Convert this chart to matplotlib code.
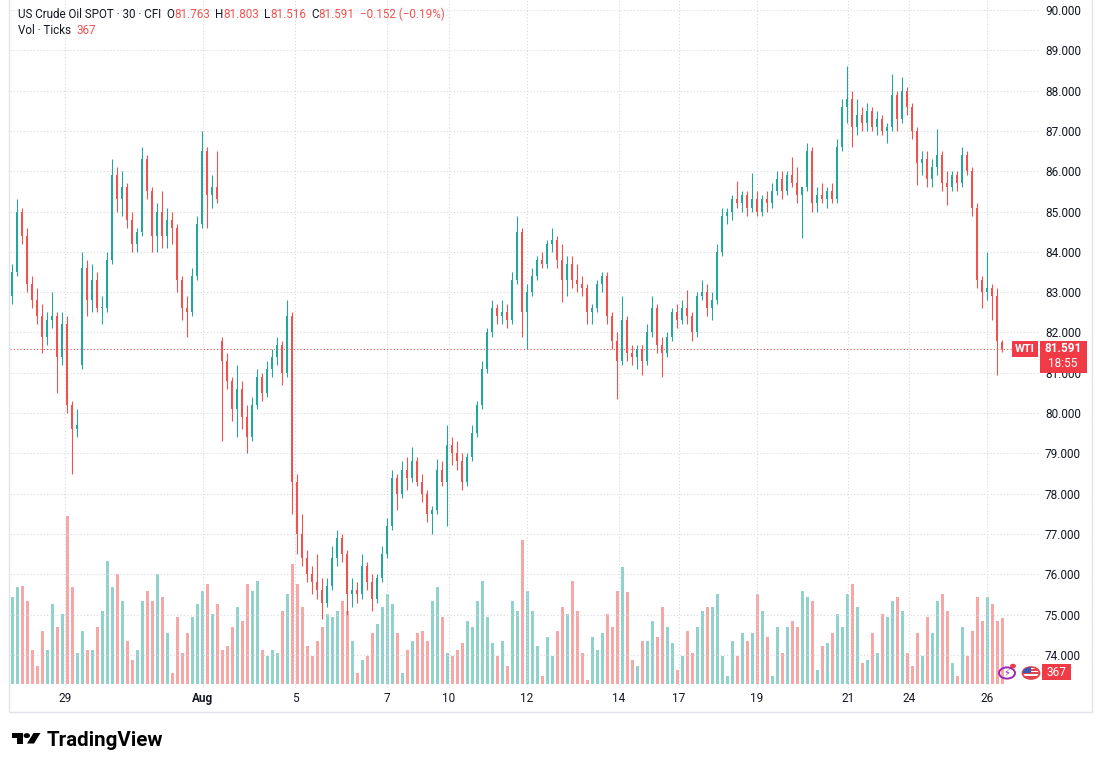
import matplotlib
matplotlib.use("Agg")
import matplotlib.pyplot as plt
import numpy as np
from matplotlib.patches import Rectangle, Circle, Polygon

# 30 min US crude oil spot, sampled every ~2.5h across the screen
opens = [82.9, 83.5, 85.0, 84.4, 83.2, 82.8, 82.4, 81.9, 82.3, 82.4,
         81.4, 82.2, 80.2, 79.6, 81.2, 83.6, 82.8, 83.3, 82.6, 82.6,
         83.8, 85.9, 85.3, 85.6, 84.8, 84.2, 84.5, 86.3, 85.5, 84.4,
         85.0, 84.4, 84.8, 84.6, 83.3, 82.6, 82.5, 83.4, 84.7, 86.5,
         85.4, 85.6, 81.8, 81.3, 80.8, 80.1, 80.6, 79.9, 79.4, 80.2,
         80.9, 80.5, 81.1, 81.4, 81.7, 81.0, 82.4, 78.3, 77.0, 76.4,
         76.0, 75.8, 75.6, 75.3, 75.7, 76.4, 76.9, 76.5, 75.5, 75.6,
         75.5, 76.2, 75.8, 75.4, 75.9, 76.5, 77.2, 78.4, 78.0, 78.6,
         78.4, 78.8, 78.3, 78.0, 77.5, 77.6, 78.6, 78.3, 79.2, 79.0,
         78.8, 78.3, 78.9, 79.5, 80.2, 81.1, 82.0, 82.6, 82.4, 82.5,
         82.3, 83.3, 84.5, 82.5, 83.0, 83.4, 83.8, 83.7, 84.2, 84.3,
         83.8, 83.3, 83.7, 83.3, 83.2, 83.1, 82.5, 82.6, 83.2, 83.4,
         82.4, 81.8, 81.3, 82.3, 81.5, 81.4, 81.6, 81.3, 82.0, 82.6,
         81.7, 81.5, 81.9, 82.5, 82.3, 82.6, 82.4, 82.0, 82.9, 83.0,
         82.6, 82.8, 84.0, 84.9, 85.0, 85.3, 85.2, 85.4, 85.1, 85.3,
         85.0, 85.3, 85.2, 85.5, 85.8, 85.5, 85.9, 85.7, 85.4, 85.6,
         86.5, 85.2, 85.4, 85.3, 85.5, 85.3, 86.6, 87.6, 87.8, 87.1,
         87.4, 87.2, 87.5, 87.1, 87.3, 87.0, 87.1, 87.9, 87.3, 88.0,
         87.6, 87.0, 86.2, 86.3, 85.8, 86.1, 86.4, 85.7, 85.6, 85.9,
         85.7, 86.4, 86.0, 85.1, 83.3, 83.0, 83.1, 82.9, 81.763]
highs = [83.7, 85.3, 85.1, 84.6, 83.4, 83.1, 82.7, 82.5, 83.0, 82.5,
         82.5, 82.4, 80.3, 80.1, 84.0, 83.8, 83.7, 83.5, 82.9, 84.0,
         86.3, 86.1, 86.0, 85.7, 85.0, 84.6, 86.6, 86.4, 85.6, 85.2,
         85.5, 85.1, 85.0, 84.7, 83.4, 82.9, 83.6, 84.9, 87.0, 86.6,
         85.9, 86.5, 81.9, 81.5, 80.9, 81.2, 80.8, 80.2, 80.4, 81.1,
         81.0, 81.3, 81.6, 81.9, 81.8, 82.8, 82.5, 78.5, 77.5, 76.6,
         76.2, 76.5, 75.9, 75.9, 76.7, 77.1, 77.0, 76.6, 75.9, 75.8,
         76.5, 76.3, 76.0, 76.0, 76.7, 77.4, 78.6, 78.5, 78.8, 78.9,
         79.15, 78.9, 78.5, 78.1, 77.7, 78.85, 78.8, 79.7, 79.4, 79.3,
         79.0, 79.0, 79.7, 80.3, 81.3, 82.1, 82.8, 82.7, 82.8, 82.7,
         83.5, 84.9, 84.6, 83.2, 83.6, 83.9, 84.0, 84.3, 84.6, 84.4,
         84.2, 83.9, 83.9, 83.7, 83.4, 83.2, 82.7, 83.3, 83.5, 83.5,
         82.5, 82.0, 82.9, 82.4, 81.7, 81.7, 81.7, 82.2, 82.9, 82.7,
         81.9, 82.0, 82.6, 82.7, 82.8, 83.05, 82.5, 83.0, 83.3, 83.2,
         83.0, 84.2, 85.1, 85.1, 85.4, 85.75, 85.5, 85.5, 85.95, 85.5,
         85.4, 85.5, 85.7, 86.0, 86.0, 86.0, 86.35, 86.1, 85.6, 86.7,
         86.6, 85.6, 85.7, 85.6, 85.7, 86.8, 87.8, 88.6, 88.0, 87.8,
         87.6, 87.7, 87.6, 87.5, 87.4, 87.2, 88.4, 88.0, 88.35, 88.1,
         87.7, 87.1, 86.5, 86.5, 86.3, 87.05, 86.5, 86.0, 86.0, 86.0,
         86.6, 86.5, 86.1, 85.2, 83.4, 84.0, 83.2, 83.1, 81.803]
lows = [82.7, 83.4, 84.2, 83.0, 82.6, 82.2, 81.5, 81.7, 82.1, 80.5,
        81.2, 80.0, 78.5, 79.4, 81.1, 82.4, 82.5, 82.5, 82.2, 82.5,
        83.7, 85.0, 84.9, 84.6, 84.0, 84.0, 84.4, 85.3, 84.0, 84.0,
        84.1, 84.1, 84.2, 83.0, 82.3, 81.9, 82.4, 83.3, 84.6, 84.6,
        85.1, 85.2, 79.3, 80.6, 79.8, 79.4, 79.6, 79.0, 79.3, 80.1,
        80.3, 80.4, 80.9, 81.2, 80.7, 80.9, 77.5, 76.5, 76.2, 75.8,
        75.5, 75.4, 74.9, 75.2, 75.6, 76.2, 76.3, 75.0, 75.2, 75.3,
        75.4, 75.6, 75.1, 75.3, 75.8, 76.4, 77.1, 77.6, 77.9, 78.1,
        78.3, 78.2, 77.8, 77.3, 77.0, 77.5, 78.2, 77.2, 78.7, 78.6,
        78.1, 78.2, 78.8, 79.4, 80.1, 81.0, 81.9, 82.2, 82.2, 82.1,
        82.2, 83.2, 81.9, 81.6, 82.9, 83.3, 83.6, 83.6, 84.0, 83.6,
        82.75, 82.9, 83.1, 83.0, 82.9, 82.2, 82.2, 82.5, 83.0, 82.2,
        81.6, 80.35, 81.2, 81.3, 81.2, 81.1, 80.95, 81.2, 81.9, 81.5,
        80.9, 81.4, 81.8, 82.1, 82.2, 82.2, 81.8, 81.9, 82.8, 82.4,
        82.3, 82.7, 83.9, 84.7, 84.8, 85.1, 85.0, 84.9, 85.0, 84.9,
        84.9, 85.0, 85.1, 85.4, 85.3, 85.4, 85.6, 85.2, 84.35, 85.5,
        85.0, 85.0, 85.2, 85.1, 85.2, 85.2, 86.5, 87.2, 86.6, 86.9,
        87.0, 87.0, 87.0, 86.9, 86.9, 86.7, 87.0, 87.0, 87.2, 87.4,
        86.8, 85.65, 85.9, 85.6, 85.6, 85.9, 85.5, 85.15, 85.5, 85.5,
        85.6, 85.9, 84.9, 83.1, 82.6, 82.8, 82.3, 80.95, 81.516]
closes = [83.5, 85.0, 84.4, 83.2, 82.8, 82.4, 81.9, 82.3, 82.4, 81.4,
          82.2, 80.2, 79.6, 79.7, 83.6, 82.8, 83.3, 82.6, 82.6, 83.8,
          85.9, 85.3, 85.6, 84.8, 84.2, 84.5, 86.3, 85.5, 84.4, 85.0,
          84.4, 84.8, 84.6, 83.3, 82.6, 82.5, 83.4, 84.7, 86.5, 85.4,
          85.6, 85.3, 81.3, 80.8, 80.1, 80.6, 79.9, 79.4, 80.2, 80.9,
          80.5, 81.1, 81.4, 81.7, 81.0, 82.4, 78.3, 77.0, 76.4, 76.0,
          75.8, 75.6, 75.3, 75.7, 76.4, 76.9, 76.5, 75.5, 75.6, 75.5,
          76.2, 75.8, 75.4, 75.9, 76.5, 77.2, 78.4, 78.0, 78.6, 78.4,
          78.8, 78.3, 78.0, 77.5, 77.6, 78.6, 78.3, 79.2, 79.0, 78.8,
          78.3, 78.9, 79.5, 80.2, 81.1, 82.0, 82.6, 82.4, 82.5, 82.3,
          83.3, 84.5, 82.5, 83.0, 83.4, 83.8, 83.7, 84.2, 84.3, 83.8,
          83.3, 83.7, 83.3, 83.2, 83.1, 82.5, 82.6, 83.2, 83.4, 82.4,
          81.8, 81.3, 82.3, 81.5, 81.4, 81.6, 81.3, 82.0, 82.6, 81.7,
          81.5, 81.9, 82.5, 82.3, 82.6, 82.4, 82.0, 82.9, 83.0, 82.6,
          82.8, 84.0, 84.9, 85.0, 85.3, 85.2, 85.4, 85.1, 85.3, 85.0,
          85.3, 85.2, 85.5, 85.8, 85.5, 85.9, 85.7, 85.4, 85.6, 86.5,
          85.2, 85.4, 85.3, 85.5, 85.3, 86.6, 87.6, 87.8, 87.1, 87.4,
          87.2, 87.5, 87.1, 87.3, 87.0, 87.1, 87.9, 87.3, 88.0, 87.6,
          87.0, 86.2, 86.3, 85.8, 86.1, 86.4, 85.7, 85.6, 85.9, 85.7,
          86.4, 86.0, 85.1, 83.3, 83.0, 83.1, 82.9, 81.8, 81.591]
volumes = [484, 539, 545, 462, 187, 99, 297, 187, 446, 319,
           391, 935, 539, 171, 297, 187, 187, 319, 407, 682,
           539, 611, 462, 242, 132, 187, 462, 517, 462, 611,
           484, 281, 61, 374, 171, 281, 374, 446, 517, 556,
           391, 446, 187, 209, 319, 429, 352, 556, 517, 572,
           187, 154, 187, 171, 407, 501, 666, 556, 429, 209,
           154, 242, 319, 391, 374, 407, 462, 407, 242, 61,
           132, 154, 281, 336, 429, 501, 446, 281, 61, 187,
           242, 281, 297, 242, 462, 539, 374, 171, 154, 187,
           226, 352, 319, 462, 572, 374, 226, 154, 242, 99,
           462, 407, 803, 517, 407, 209, 44, 264, 154, 297,
           429, 391, 572, 407, 171, 22, 264, 187, 281, 391,
           319, 517, 649, 512, 132, 99, 242, 242, 352, 264,
           429, 319, 226, 77, 154, 297, 171, 319, 407, 429,
           429, 501, 154, 44, 242, 154, 281, 242, 281, 501,
           407, 264, 44, 319, 171, 319, 352, 319, 517, 484,
           462, 77, 209, 226, 281, 391, 319, 501, 556, 429,
           116, 132, 281, 171, 391, 374, 462, 484, 407, 171,
           99, 281, 154, 374, 281, 462, 501, 407, 116, 44,
           319, 154, 297, 484, 352, 484, 446, 352, 367]
# session labels and the bar where each one sits
tick_labels = ["29", "Aug", "5", "7", "10", "12", "14", "17", "19", "21", "24", "26"]
tick_bars = [10.6, 38.2, 56.6, 75, 87.4, 103, 121.4, 133.4, 149, 167.2, 179.4, 195]
price_levels = list(range(74, 91))

W, H = 1100, 769
UP, DN, LBL = "#26a69a", "#ef5350", "#f03b47"
TXT = "#131722"
plt.rcParams["font.family"] = ["Roboto", "DejaVu Sans"]

fig = plt.figure(figsize=(11, 7.69), dpi=100)


def fx(x):
    return x / W


def fy(y):
    return 1 - y / H


rect = [fx(10), fy(688), fx(1040) - fx(10), fy(0) - fy(688)]
ax_vol = fig.add_axes(rect)
ax = fig.add_axes(rect)
ax.patch.set_alpha(0)

o = np.array(opens)
c = np.array(closes)
idx = np.arange(len(c))
cols = np.where(c >= o, UP, DN)

ax_vol.bar(idx, volumes, width=0.6, color=cols, alpha=0.5, lw=0)
ax_vol.set_xlim(-0.4, 205.6)
ax_vol.set_ylim(-22, 3803)
ax_vol.axis("off")

ax.vlines(idx, lows, highs, colors=cols, lw=0.8, zorder=3)
ax.bar(idx, np.maximum(np.abs(c - o), 0.03), bottom=np.minimum(o, c), width=0.58,
       color=cols, lw=0, zorder=4)

ax.set_xlim(-0.4, 205.6)
ax.set_ylim(73.18, 90.248)
ax.set_yticks(price_levels)
ax.set_yticklabels([f"{v:.3f}" for v in price_levels])
ax.yaxis.tick_right()
ax.set_xticks(tick_bars)
ax.set_xticklabels(tick_labels)
for t in ax.get_xticklabels():
    if t.get_text() == "Aug":
        t.set_fontweight("bold")
ax.tick_params(length=0, labelsize=8.5, labelcolor=TXT)
ax.tick_params(axis="y", pad=3.6)
ax.tick_params(axis="x", pad=3.2)
ax.grid(True, ls=(0, (1, 2)), color="#d6d9e0", lw=0.8)
ax.set_axisbelow(True)
for s in ax.spines.values():
    s.set_visible(False)

# last price line and labels
last = closes[-1]
ax.axhline(last, color=DN, ls=(0, (1, 2)), lw=0.8, zorder=2)
fig.add_artist(Rectangle((fx(1012), fy(357)), fx(26), 16 / H, transform=fig.transFigure,
                         color=LBL, lw=0))
fig.text(fx(1025), fy(349), "WTI", color="white", fontsize=8, fontweight="bold",
         ha="center", va="center")
fig.add_artist(Rectangle((fx(1040), fy(373)), fx(47), 32 / H, transform=fig.transFigure,
                         color=LBL, lw=0))
fig.text(fx(1063), fy(349), f"{last:.3f}", color="white", fontsize=8.5, fontweight="bold",
         ha="center", va="center")
fig.text(fx(1063), fy(364), "18:55", color="white", fontsize=8.5, ha="center", va="center")

# last volume badge and icons
fig.add_artist(Rectangle((fx(1042), fy(680)), fx(29), 16 / H, transform=fig.transFigure,
                         color=LBL, lw=0))
fig.text(fx(1056), fy(672), str(volumes[-1]), color="white", fontsize=8.5,
         ha="center", va="center")
fig.add_artist(Circle((fx(1007), fy(673)), 8 / W, transform=fig.transFigure, fill=False,
                      ec="#9c27b0", lw=1.4))
fig.text(fx(1007), fy(673), "\u26a1", color="#9c27b0", fontsize=7, ha="center",
         va="center", family="DejaVu Sans")
fig.add_artist(Circle((fx(1013), fy(666)), 2.2 / W, transform=fig.transFigure, color="#f23645"))
flag = Circle((fx(1031), fy(673)), 8.5 / W, transform=fig.transFigure, fc="white",
              ec="#e04450", lw=1.3)
fig.add_artist(flag)
for k in range(4):
    st = Rectangle((fx(1022), fy(667 + 3.5 * k)), fx(18), 1.6 / H,
                   transform=fig.transFigure, color="#e04450", lw=0)
    st.set_clip_path(flag)
    fig.add_artist(st)
canton = Rectangle((fx(1022), fy(673)), fx(9), 9 / H, transform=fig.transFigure,
                   color="#3b5bb5", lw=0)
canton.set_clip_path(flag)
fig.add_artist(canton)

# chart frame
fig.add_artist(Rectangle((fx(9), fy(712)), fx(1083), 714 / H, transform=fig.transFigure,
                         fill=False, ec="#e0e3eb", lw=1))

# legend line at the top, pieces placed one after another
renderer = fig.canvas.get_renderer()


def chain(parts, x, y, size):
    for s, col, gap in parts:
        t = fig.text(fx(x), fy(y), s, color=col, fontsize=size, ha="left", va="center")
        x += t.get_window_extent(renderer).width + gap


chain([("US Crude Oil SPOT \u00b7 30 \u00b7 CFI", TXT, 5),
       ("O", TXT, 0), (f"{opens[-1]:.3f}", DN, 5),
       ("H", TXT, 0), (f"{highs[-1]:.3f}", DN, 5),
       ("L", TXT, 0), (f"{lows[-1]:.3f}", DN, 5),
       ("C", TXT, 0), (f"{closes[-1]:.3f}", DN, 5),
       ("\u22120.152 (\u22120.19%)", DN, 0)], 18, 14, 8.4)
chain([("Vol \u00b7 Ticks", TXT, 5), (str(volumes[-1]), DN, 0)], 18, 30, 8.4)

# TradingView logo
fig.add_artist(Rectangle((fx(12), fy(737.5)), fx(11), 4.5 / H, transform=fig.transFigure,
                         color="black", lw=0))
fig.add_artist(Rectangle((fx(17.5), fy(743.5)), fx(5.5), 10.5 / H, transform=fig.transFigure,
                         color="black", lw=0))
fig.add_artist(Circle((fx(26.8), fy(735.6)), 2.5 / W, transform=fig.transFigure, color="black"))
fig.add_artist(Polygon([(fx(33.5), fy(733)), (fx(40.5), fy(733)), (fx(34), fy(743.5)),
                        (fx(27), fy(743.5))], closed=True, transform=fig.transFigure,
                       color="black", lw=0))
fig.text(fx(47), fy(746), "TradingView", color="black", fontsize=14.8, fontweight="bold",
         ha="left", va="baseline")

fig.savefig("out.png", dpi=100, facecolor="white")
